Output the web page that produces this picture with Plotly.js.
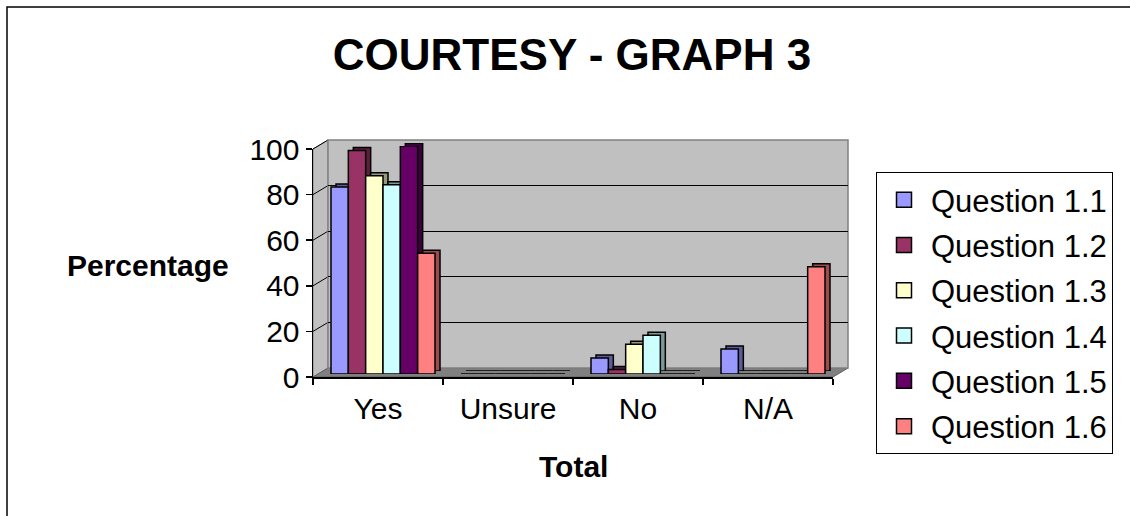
<!DOCTYPE html>
<html>
<head>
<meta charset="utf-8">
<script src="https://cdn.plot.ly/plotly-3.0.1.min.js"></script>
<style>html,body{margin:0;padding:0;background:#fff;}#chart{width:1130px;height:516px;}</style>
</head>
<body>
<div id="chart"></div>
<script>
// ---- data ----
const categories = ["Yes", "Unsure", "No", "N/A"];
const seriesNames = ["Question 1.1", "Question 1.2", "Question 1.3", "Question 1.4", "Question 1.5", "Question 1.6"];
const q11 = [82, 0, 7, 11];
const q12 = [98, 0, 2, 0];
const q13 = [87, 0, 13, 0];
const q14 = [83, 0, 17, 0];
const q15 = [100, 0, 0, 0];
const q16 = [53, 0, 0, 47];
const yTicks = [0, 20, 40, 60, 80, 100];

// ---- styles ----
const faceColors = ["#9999FF", "#993366", "#FFFFCC", "#CCFFFF", "#660066", "#FF8080"];
const sideColors = ["#5c5c99", "#5c1f3d", "#99997a", "#7a9999", "#3d003d", "#994d4d"];
const FONT = "Liberation Sans, Arial, sans-serif";

// ---- geometry (pixels) ----
const W = 1130, H = 516;
const FX0 = 313, FX1 = 833, FY0 = 377, FY100 = 149;   // front axes
const DX = 15, DY = 9;                                   // depth of back wall
const BX = 5, BY = 3;                                    // front face of bars
const SX = 10, SY = 6;                                   // back face of bars
const px = x => x / W, py = y => 1 - y / H;
function xdom(off) { return [px(FX0 + off), px(FX1 + off)]; }
function ydom(off) { return [py(FY0 - off), py(FY100 - off)]; }

const allSeries = [q11, q12, q13, q14, q15, q16];
const traces = [];

// back wall subplot (xy): empty trace to create it
traces.push({type: "scatter", x: categories, y: [null, null, null, null], xaxis: "x", yaxis: "y",
  showlegend: false, hoverinfo: "skip", mode: "markers"});

// depth (back faces) of bars (x2y2)
allSeries.forEach((vals, i) => {
  traces.push({type: "bar", x: categories, y: vals, xaxis: "x2", yaxis: "y2",
    marker: {color: sideColors[i], line: {color: "#000", width: 1.5}},
    showlegend: false, hoverinfo: "skip"});
});
// front faces of bars (x3y3)
allSeries.forEach((vals, i) => {
  traces.push({type: "bar", x: categories, y: vals, xaxis: "x3", yaxis: "y3", name: seriesNames[i],
    legendgroup: "g" + i, showlegend: false,
    marker: {color: faceColors[i], line: {color: "#000", width: 1.5}}});
});
// legend entries (square swatches, no visible points)
allSeries.forEach((vals, i) => {
  traces.push({type: "scatter", mode: "markers", x: categories, y: vals.map(() => null), xaxis: "x4", yaxis: "y4",
    name: seriesNames[i], legendgroup: "g" + i, hoverinfo: "skip",
    marker: {symbol: "square", size: 15, color: faceColors[i], line: {color: "#000", width: 1.5}}});
});

const hiddenX = (d, anchor) => ({domain: d, anchor: anchor, type: "category", categoryarray: categories,
  range: [-0.5, 3.5], showgrid: false, zeroline: false, showline: false, showticklabels: false, ticks: ""});
const hiddenY = (d, anchor) => ({domain: d, anchor: anchor, range: [0, 100], showgrid: false, zeroline: false,
  showline: false, showticklabels: false, ticks: ""});

// shapes: left wall, floor, wall diagonals, back wall, outer border
const shapes = [];
shapes.push({type: "path", xref: "paper", yref: "paper", layer: "below",
  path: `M${px(FX0)},${py(FY0)} L${px(FX0)},${py(FY100)} L${px(FX0 + DX)},${py(FY100 - DY)} L${px(FX0 + DX)},${py(FY0 - DY)} Z`,
  fillcolor: "#c0c0c0", line: {color: "#808080", width: 1}});
shapes.push({type: "path", xref: "paper", yref: "paper", layer: "below",
  path: `M${px(FX0)},${py(FY0)} L${px(FX1)},${py(FY0)} L${px(FX1 + DX)},${py(FY0 - DY)} L${px(FX0 + DX)},${py(FY0 - DY)} Z`,
  fillcolor: "#808080", line: {color: "#606060", width: 1}});
yTicks.forEach(t => {
  if (t === 0) return;
  const yf = FY0 + (FY100 - FY0) * t / 100;
  shapes.push({type: "line", xref: "paper", yref: "paper", layer: "below",
    x0: px(FX0), y0: py(yf), x1: px(FX0 + DX), y1: py(yf - DY), line: {color: "#000", width: 1}});
});
shapes.push({type: "rect", xref: "x domain", yref: "y domain", layer: "below",
  x0: 0, x1: 1, y0: 0, y1: 1, fillcolor: "#c0c0c0", line: {color: "#808080", width: 1.5}});
shapes.push({type: "rect", xref: "paper", yref: "paper", layer: "above",
  x0: px(7), x1: 1.05, y0: -0.05, y1: py(7), line: {color: "#000", width: 1.5}, fillcolor: "rgba(0,0,0,0)"});

const layout = {
  width: W, height: H,
  margin: {l: 0, r: 0, t: 0, b: 0},
  paper_bgcolor: "#fff", plot_bgcolor: "rgba(0,0,0,0)",
  font: {family: FONT, color: "#000", size: 30},
  title: {text: "<b>COURTESY - GRAPH 3</b>", font: {family: FONT, size: 44, color: "#000"},
    xref: "paper", yref: "paper", x: px(572), xanchor: "center", y: py(55), yanchor: "middle"},
  barmode: "group", bargap: 0.2, bargroupgap: 0,
  showlegend: true,
  legend: {x: px(876), xanchor: "left", y: py(172), yanchor: "top", bordercolor: "#000", borderwidth: 1,
    bgcolor: "#fff", font: {family: FONT, size: 31, color: "#000"}, traceorder: "grouped",
    tracegroupgap: 2, itemwidth: 44},
  xaxis: hiddenX(xdom(DX), "y"),
  yaxis: Object.assign(hiddenY(ydom(DY), "x"), {showgrid: true, gridcolor: "#000", gridwidth: 1, tickvals: yTicks}),
  xaxis2: hiddenX(xdom(SX), "y2"),
  yaxis2: hiddenY(ydom(SY), "x2"),
  xaxis3: hiddenX(xdom(BX), "y3"),
  yaxis3: hiddenY(ydom(BY), "x3"),
  xaxis4: {domain: xdom(0), anchor: "y4", type: "category", categoryarray: categories, range: [-0.5, 3.5],
    showgrid: false, zeroline: false, showline: true, linecolor: "#000", linewidth: 1.5,
    ticks: "outside", tickson: "boundaries", ticklen: 6, tickcolor: "#000", tickwidth: 1.5,
    ticklabelstandoff: 4,
    tickfont: {family: FONT, size: 30, color: "#000"}},
  yaxis4: {domain: ydom(0), anchor: "x4", range: [0, 100], tickvals: yTicks,
    showgrid: false, zeroline: false, showline: true, linecolor: "#000", linewidth: 1.5,
    ticks: "outside", ticklen: 6, tickcolor: "#000", tickwidth: 1.5,
    tickfont: {family: FONT, size: 30, color: "#000"}},
  shapes: shapes,
  annotations: [
    {text: "<b>Percentage</b>", xref: "paper", yref: "paper", x: px(148), y: py(265), xanchor: "center", yanchor: "middle",
      showarrow: false, font: {family: FONT, size: 30, color: "#000"}},
    {text: "<b>Total</b>", xref: "paper", yref: "paper", x: px(573), y: py(466), xanchor: "center", yanchor: "middle",
      showarrow: false, font: {family: FONT, size: 30, color: "#000"}}
  ]
};

Plotly.newPlot("chart", traces, layout, {staticPlot: true, displayModeBar: false});
</script>
</body>
</html>
